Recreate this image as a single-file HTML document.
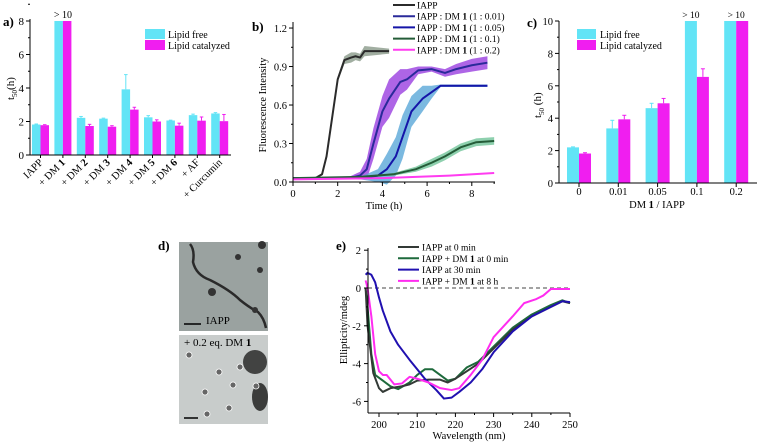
<!DOCTYPE html>
<html><head><meta charset="utf-8">
<style>
html,body{margin:0;padding:0;background:#fff;}
svg{display:block;font-family:"Liberation Serif",serif;}
</style></head>
<body>
<svg id="fig" width="759" height="442" viewBox="0 0 759 442"></svg>
<script>
// ---------- Panel a data ----------
const aCats = ["IAPP","+ DM 1","+ DM 2","+ DM 3","+ DM 4","+ DM 5","+ DM 6","+ AF","+ Curcumin"];
const aFree = [1.82,8,2.22,2.17,3.92,2.25,2.06,2.38,2.48];
const aCat  = [1.78,8,1.73,1.69,2.71,2.0,1.75,2.05,2.02];
const aFreeErr = [0.03,0,0.08,0.03,0.88,0.1,0.02,0.06,0.05];
const aCatErr  = [0.03,0,0.1,0.06,0.14,0.1,0.15,0.22,0.4];
const aTicks = [0,2,4,6,8];
// ---------- Panel b data ----------
const bSeriesNames = ["IAPP","IAPP : DM 1 (1 : 0.01)","IAPP : DM 1 (1 : 0.05)","IAPP : DM 1 (1 : 0.1)","IAPP : DM 1 (1 : 0.2)"];
const bT0 = [0,1,1.3,1.5,1.75,2.0,2.3,2.6,2.8,3.0,3.2,4.3];
const bY0 = [0.03,0.03,0.06,0.2,0.5,0.8,0.95,0.97,0.98,0.97,1.02,1.02];
const bE0 = [0,0,0.01,0.02,0.02,0.02,0.03,0.04,0.03,0.03,0.04,0.02];
const bT1 = [0,2.5,3,3.3,3.6,4,4.3,4.8,5.1,5.6,6.2,6.8,7.3,8,8.7];
const bY1 = [0.03,0.03,0.05,0.1,0.3,0.55,0.65,0.78,0.8,0.87,0.88,0.85,0.88,0.91,0.93];
const bE1 = [0,0.01,0.03,0.08,0.12,0.12,0.15,0.1,0.08,0.03,0.02,0.03,0.04,0.05,0.05];
const bT2 = [0,3,3.8,4.2,4.6,4.9,5.3,5.8,6.2,6.6,8.7];
const bY2 = [0.03,0.03,0.05,0.1,0.2,0.35,0.55,0.65,0.7,0.75,0.75];
const bE2 = [0,0.01,0.05,0.12,0.15,0.17,0.12,0.1,0.05,0.01,0.01];
const bT3 = [0,3,4.5,5.5,6.2,6.8,7.5,8.2,9];
const bY3 = [0.03,0.04,0.06,0.1,0.15,0.2,0.27,0.31,0.32];
const bE3 = [0,0.005,0.01,0.02,0.03,0.03,0.03,0.03,0.03];
const bT4 = [0,4,7,9];
const bY4 = [0.02,0.03,0.05,0.07];
const bE4 = [0,0.003,0.005,0.005];
const bXTicks = [0,2,4,6,8];
const bYTicks = [0.0,0.3,0.6,0.9,1.2];
// ---------- Panel c data ----------
const cCats = ["0","0.01","0.05","0.1","0.2"];
const cFree = [2.2,3.37,4.62,10,10];
const cCat  = [1.82,3.93,4.92,6.55,10];
const cFreeErr = [0.03,0.5,0.3,0,0];
const cCatErr  = [0.05,0.25,0.3,0.5,0];
const cTicks = [0,2,4,6,8,10];
// ---------- Panel e data ----------
const eNames = ["IAPP at 0 min","IAPP + DM 1 at 0 min","IAPP at 30 min","IAPP + DM 1 at 8 h"];
const eW0 = [196.5,197,198.5,200,201,203,206,208,210,213,216,218,220,223,226,230,235,240,245,248,250];
const eV0 = [0,-2,-4.5,-5.3,-5.5,-5.3,-5.2,-5.1,-4.9,-4.85,-4.85,-5.0,-4.8,-4.4,-4.0,-3.2,-2.2,-1.5,-1.0,-0.7,-0.8];
const eW1 = [196.5,197,198,199,201,203,205,208,210,212,214,216,218,220,223,226,230,235,240,245,248,250];
const eV1 = [0,-1,-3.5,-4.6,-4.9,-5.2,-5.35,-5.0,-4.6,-4.3,-4.3,-4.6,-4.9,-4.8,-4.2,-3.9,-3.1,-2.1,-1.4,-0.9,-0.65,-0.8];
const eW2 = [196.5,197,198,199,200,201,203,205,208,210,212,215,217,219,221,224,227,230,235,240,245,248,250];
const eV2 = [0.7,0.8,0.7,0.3,-0.5,-1.2,-2.3,-3.0,-3.8,-4.3,-4.8,-5.4,-5.85,-5.8,-5.5,-5.0,-4.3,-3.4,-2.3,-1.5,-1.0,-0.7,-0.75];
const eW3 = [196.5,197,198,199,200,201,202,204,206,208,210,213,216,219,221,224,227,230,235,238,241,243,245,250];
const eV3 = [0.4,0.0,-1.5,-3.5,-4.4,-4.6,-4.6,-5.1,-5.05,-4.7,-4.8,-5.0,-5.3,-5.4,-5.3,-4.6,-3.8,-2.6,-1.5,-0.8,-0.6,-0.4,-0.05,-0.05];
const eXTicks = [200,210,220,230,240,250];
const eYTicks = [2,0,-2,-4,-6];

const svg = document.getElementById('fig');
const NS = 'http://www.w3.org/2000/svg';
function mk(tag, attrs, parent, text){
  const e = document.createElementNS(NS, tag);
  for (const k in attrs) e.setAttribute(k, attrs[k]);
  if (text !== undefined) e.textContent = text;
  (parent||svg).appendChild(e);
  return e;
}
const CY = '#62e4f6', MG = '#f01ef0';

// ================= Panel a =================
const ga = mk('g',{});


const aY = v => 155 - v*16.75;
const aX = i => 32 + i*22.4;
aFree.forEach((v,i)=>{
  const x = aX(i);
  if (aFreeErr[i]>0){ const l=mk('line',{x1:x+4.2,x2:x+4.2,y1:aY(v),y2:aY(v+aFreeErr[i]),stroke:CY,'stroke-width':1},ga);
     
    mk('line',{x1:x+2.5,x2:x+6,y1:aY(v+aFreeErr[i]),y2:aY(v+aFreeErr[i]),stroke:CY,'stroke-width':1},ga);}
  const r = mk('rect',{x:x,y:aY(v),width:8.5,height:155-aY(v),fill:CY},ga);
  
  
});
aCat.forEach((v,i)=>{
  const x = aX(i)+8.5;
  if (aCatErr[i]>0){ const l=mk('line',{x1:x+4.2,x2:x+4.2,y1:aY(v),y2:aY(v+aCatErr[i]),stroke:MG,'stroke-width':1},ga);
     
    mk('line',{x1:x+2.5,x2:x+6,y1:aY(v+aCatErr[i]),y2:aY(v+aCatErr[i]),stroke:MG,'stroke-width':1},ga);}
  const r = mk('rect',{x:x,y:aY(v),width:8.5,height:155-aY(v),fill:MG},ga);
  
  
});
mk('text',{x:aX(1)+8.5,y:18,'font-size':10,'text-anchor':'middle'},ga,'> 10');
mk('line',{x1:30,x2:30,y1:19,y2:155,stroke:'#000'},ga);
mk('line',{x1:30,x2:231,y1:155,y2:155,stroke:'#000'},ga);
aTicks.forEach(t=>{
  mk('line',{x1:26,x2:30,y1:aY(t),y2:aY(t),stroke:'#000'},ga);
  mk('line',{x1:28,x2:30,y1:aY(t+1),y2:aY(t+1),stroke:'#000'},ga);
  const tl = mk('text',{x:24,y:aY(t)+4,'font-size':11,'text-anchor':'end'},ga,String(t));
   
});
aCats.forEach((c,i)=>{
  const cx = aX(i)+8.5;
  mk('line',{x1:cx,x2:cx,y1:155,y2:158,stroke:'#000'},ga);
  const tl = mk('text',{x:cx+3,y:163,'font-size':10.5,'text-anchor':'end',transform:`rotate(-45 ${cx+3} 163)`},ga);
   
  const m = c.match(/^(\+ DM )(\d)$/);
  if (m){ mk('tspan',{},tl,m[1]); mk('tspan',{'font-weight':'bold'},tl,m[2]); } else tl.textContent = c;
});
const at = mk('text',{x:0,y:0,'font-size':11,transform:'translate(14 100) rotate(-90)'},ga);
 
mk('tspan',{},at,'t'); mk('tspan',{'font-size':7,dy:3},at,'50'); mk('tspan',{dy:-3},at,'(h)');
mk('text',{x:3,y:26,'font-size':13,'font-weight':'bold'},ga,'a)');
const la1=mk('rect',{x:145,y:29,width:20,height:10,fill:CY},ga);  
mk('text',{x:168,y:38,'font-size':10},ga,'Lipid free');
const la2=mk('rect',{x:145,y:40,width:20,height:10,fill:MG},ga);  
mk('text',{x:168,y:49,'font-size':10},ga,'Lipid catalyzed');

// ================= Panel b =================
const gb = mk('g',{});


const bX = t => 293 + t*22.35;
const bY = v => 182 - v*128.3;
const bSeries = [[bT0,bY0,bE0,'#2b2b2b','#8a9a8a'],[bT1,bY1,bE1,'#2a2a9a','#9a3ee0'],[bT2,bY2,bE2,'#1515a8','#5aa8d8'],[bT3,bY3,bE3,'#245c38','#72c49a'],[bT4,bY4,bE4,'#ff3cf0','#ff9af5']];
bSeries.forEach(([T,Y,E,lc,bc],si)=>{
  let up = T.map((t,i)=>`${bX(t)},${bY(Y[i]+E[i])}`);
  let dn = T.map((t,i)=>`${bX(t)},${bY(Y[i]-E[i])}`).reverse();
  const band = mk('polygon',{points:up.concat(dn).join(' '),fill:bc,opacity:0.8},gb);
  
  
});
bSeries.forEach(([T,Y,E,lc,bc],si)=>{
  const pl = mk('polyline',{points:T.map((t,i)=>`${bX(t)},${bY(Y[i])}`).join(' '),fill:'none',stroke:lc,'stroke-width':2,'stroke-linejoin':'round'},gb);
  
  
});
mk('line',{x1:293,x2:293,y1:22,y2:182,stroke:'#000'},gb);
mk('line',{x1:293,x2:495,y1:182,y2:182,stroke:'#000'},gb);
bXTicks.forEach(t=>{
  mk('line',{x1:bX(t),x2:bX(t),y1:182,y2:186,stroke:'#000'},gb);
  mk('line',{x1:bX(t+1),x2:bX(t+1),y1:182,y2:184,stroke:'#000'},gb);
  const tl=mk('text',{x:bX(t),y:197,'font-size':10.5,'text-anchor':'middle'},gb,String(t));
   
});
bYTicks.forEach(t=>{
  mk('line',{x1:289,x2:293,y1:bY(t),y2:bY(t),stroke:'#000'},gb);
  if (t<1.2) mk('line',{x1:291,x2:293,y1:bY(t+0.15),y2:bY(t+0.15),stroke:'#000'},gb);
  const tl=mk('text',{x:287,y:bY(t)+4,'font-size':10.5,'text-anchor':'end'},gb,t.toFixed(1));
   
});
const bxt=mk('text',{x:384,y:209,'font-size':10.5,'text-anchor':'middle'},gb,'Time (h)');
 
const byt=mk('text',{x:0,y:0,'font-size':10.5,'text-anchor':'middle',transform:'translate(266 105) rotate(-90)'},gb,'Fluorescence Intensity');
 
mk('text',{x:252,y:31,'font-size':13,'font-weight':'bold'},gb,'b)');
bSeriesNames.forEach((n,i)=>{
  const y = 5 + i*11.2;
  const ln=mk('line',{x1:393,x2:415,y1:y,y2:y,stroke:bSeries[i][3],'stroke-width':2},gb);
   
  const tx=mk('text',{x:417,y:y+3.5,'font-size':9.5},gb);
  const m=n.match(/^(IAPP : DM )(1)(.*)$/);
  if(m){mk('tspan',{},tx,m[1]);mk('tspan',{'font-weight':'bold'},tx,m[2]);mk('tspan',{},tx,m[3]);} else tx.textContent=n;
});

// ================= Panel c =================
const gc = mk('g',{});


const cY = v => 183 - v*16.2;
const cX = i => 579 + i*39.3;
cFree.forEach((v,i)=>{
  const x=cX(i)-12;
  if(cFreeErr[i]>0){ mk('line',{x1:x+6,x2:x+6,y1:cY(v),y2:cY(v+cFreeErr[i]),stroke:CY},gc); mk('line',{x1:x+4,x2:x+8,y1:cY(v+cFreeErr[i]),y2:cY(v+cFreeErr[i]),stroke:CY},gc);}
  const r=mk('rect',{x:x,y:cY(v),width:12,height:183-cY(v),fill:CY},gc);
   
});
cCat.forEach((v,i)=>{
  const x=cX(i);
  if(cCatErr[i]>0){ mk('line',{x1:x+6,x2:x+6,y1:cY(v),y2:cY(v+cCatErr[i]),stroke:MG},gc); mk('line',{x1:x+4,x2:x+8,y1:cY(v+cCatErr[i]),y2:cY(v+cCatErr[i]),stroke:MG},gc);}
  const r=mk('rect',{x:x,y:cY(v),width:12,height:183-cY(v),fill:MG},gc);
   
});
mk('text',{x:cX(3)-6,y:18,'font-size':9.5,'text-anchor':'middle'},gc,'> 10');
mk('text',{x:cX(4),y:18,'font-size':9.5,'text-anchor':'middle'},gc,'> 10');
mk('line',{x1:559,x2:559,y1:21,y2:183,stroke:'#000'},gc);
mk('line',{x1:559,x2:757,y1:183,y2:183,stroke:'#000'},gc);
cTicks.forEach(t=>{
  mk('line',{x1:555,x2:559,y1:cY(t),y2:cY(t),stroke:'#000'},gc);
  if(t<10) mk('line',{x1:557,x2:559,y1:cY(t+1),y2:cY(t+1),stroke:'#000'},gc);
  const tl=mk('text',{x:553,y:cY(t)+4,'font-size':10.5,'text-anchor':'end'},gc,String(t));
   
});
cCats.forEach((c,i)=>{
  mk('line',{x1:cX(i),x2:cX(i),y1:183,y2:187,stroke:'#000'},gc);
  const tl=mk('text',{x:cX(i),y:195,'font-size':10.5,'text-anchor':'middle'},gc,c);
   
});
const cxt=mk('text',{x:657,y:208,'font-size':10.5,'text-anchor':'middle'},gc);
 
mk('tspan',{},cxt,'DM '); mk('tspan',{'font-weight':'bold'},cxt,'1'); mk('tspan',{},cxt,' / IAPP');
const cyt=mk('text',{x:0,y:0,'font-size':11,transform:'translate(541 118) rotate(-90)'},gc);
 
mk('tspan',{},cyt,'t'); mk('tspan',{'font-size':7,dy:3},cyt,'50'); mk('tspan',{dy:-3},cyt,' (h)');
mk('text',{x:527,y:27,'font-size':13,'font-weight':'bold'},gc,'c)');
const lc1=mk('rect',{x:577,y:29,width:19,height:10,fill:CY},gc);  
mk('text',{x:600,y:38,'font-size':10},gc,'Lipid free');
const lc2=mk('rect',{x:577,y:40,width:19,height:10,fill:MG},gc);  
mk('text',{x:600,y:49,'font-size':10},gc,'Lipid catalyzed');

// ================= Panel d (micrographs) =================
const gd = mk('g',{});


mk('text',{x:158,y:250,'font-size':13,'font-weight':'bold'},gd,'d)');
const img1=mk('rect',{x:179,y:242,width:89,height:89,fill:'#9aa2a0'},gd);
 
mk('path',{d:'M190 244 Q195 250 193 262 Q196 275 210 280 Q230 290 240 300 Q250 308 258 312 Q264 318 266 328',fill:'none',stroke:'#2a2a2a','stroke-width':2.5},gd);
[[238,257,3],[212,292,4],[260,270,3],[255,310,3],[262,245,4]].forEach(p=>mk('circle',{cx:p[0],cy:p[1],r:p[2],fill:'#333'},gd));
mk('text',{x:206,y:324,'font-size':11},gd,'IAPP');
mk('line',{x1:184,x2:201,y1:324,y2:324,stroke:'#000','stroke-width':1.5},gd);
const img2=mk('rect',{x:179,y:335,width:89,height:89,fill:'#c8cccb'},gd);
 
mk('ellipse',{cx:255,cy:362,rx:12,ry:12,fill:'#2a2a2a',opacity:0.85},gd);
mk('ellipse',{cx:260,cy:397,rx:8,ry:14,fill:'#222',opacity:0.85},gd);
[[189,355],[219,372],[233,385],[205,392],[229,408],[207,414],[240,367],[256,386]].forEach(p=>mk('circle',{cx:p[0],cy:p[1],r:3,fill:'#666',stroke:'#fff','stroke-width':0.8},gd));
const t2=mk('text',{x:184,y:346,'font-size':11},gd); mk('tspan',{},t2,'+ 0.2 eq. DM '); mk('tspan',{'font-weight':'bold'},t2,'1');
mk('line',{x1:184,x2:198,y1:418,y2:418,stroke:'#000','stroke-width':1.5},gd);

// ================= Panel e =================
const ge = mk('g',{});


const eX = w => 379 + (w-200)*3.82;
const eY = v => 288 - v*18.9;
mk('line',{x1:368,x2:570,y1:eY(0),y2:eY(0),stroke:'#444','stroke-dasharray':'4,3'},ge);
const eSeries=[[eW1,eV1,'#1e6a3c'],[eW0,eV0,'#333a36'],[eW2,eV2,'#2010b0'],[eW3,eV3,'#ff2cf0']];
eSeries.forEach(([W,V,c])=>{
  const pl=mk('polyline',{points:W.map((w,i)=>`${eX(w)},${eY(V[i])}`).join(' '),fill:'none',stroke:c,'stroke-width':2,'stroke-linejoin':'round'},ge);
  
  
});
mk('line',{x1:368,x2:368,y1:248,y2:413,stroke:'#000'},ge);
mk('line',{x1:368,x2:570,y1:413,y2:413,stroke:'#000'},ge);
eXTicks.forEach(t=>{
  mk('line',{x1:eX(t),x2:eX(t),y1:413,y2:417,stroke:'#000'},ge);
  if(t<250) mk('line',{x1:eX(t+5),x2:eX(t+5),y1:413,y2:415,stroke:'#000'},ge);
  const tl=mk('text',{x:eX(t),y:428,'font-size':10.5,'text-anchor':'middle'},ge,String(t));
   
});
eYTicks.forEach(t=>{
  mk('line',{x1:364,x2:368,y1:eY(t),y2:eY(t),stroke:'#000'},ge);
  if(t>-6) mk('line',{x1:366,x2:368,y1:eY(t-1),y2:eY(t-1),stroke:'#000'},ge);
  const tl=mk('text',{x:361,y:eY(t)+4,'font-size':10.5,'text-anchor':'end'},ge,String(t));
   
});
const ext=mk('text',{x:469,y:439,'font-size':10.5,'text-anchor':'middle'},ge,'Wavelength (nm)');
 
const eyt=mk('text',{x:0,y:0,'font-size':10.5,'text-anchor':'middle',transform:'translate(347 330) rotate(-90)'},ge,'Ellipticity/mdeg');
 
mk('text',{x:336,y:250,'font-size':13,'font-weight':'bold'},ge,'e)');
const eLegColors=['#333a36','#1e6a3c','#2010b0','#ff2cf0'];
eNames.forEach((n,i)=>{
  const y=247+i*11.3;
  const ln=mk('line',{x1:398,x2:419,y1:y,y2:y,stroke:eLegColors[i],'stroke-width':2},ge);
   
  const tx=mk('text',{x:422,y:y+3.5,'font-size':9.5},ge);
  const m=n.match(/^(IAPP \+ DM )(1)(.*)$/);
  if(m){mk('tspan',{},tx,m[1]);mk('tspan',{'font-weight':'bold'},tx,m[2]);mk('tspan',{},tx,m[3]);} else tx.textContent=n;
});
</script>
</body></html>
